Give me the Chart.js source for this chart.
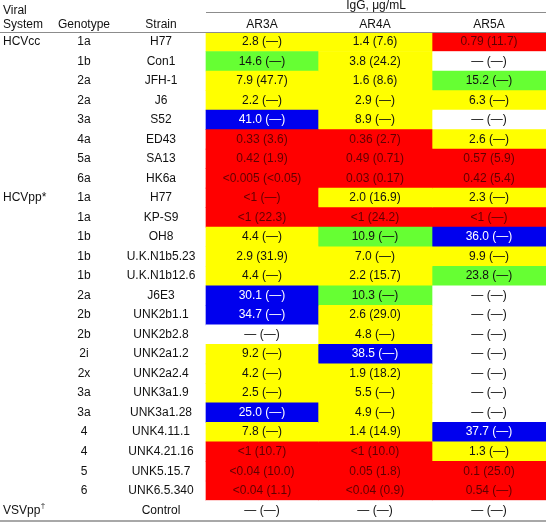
<!DOCTYPE html>
<html>
<head>
<meta charset="utf-8">
<script src="https://cdn.jsdelivr.net/npm/chart.js@4.4.1/dist/chart.umd.min.js"></script>
<style>
  body { margin: 0; background: #fff; }
  canvas { display: block; }
</style>
</head>
<body>
<canvas id="igGChart" width="546" height="522"></canvas>
<script>
// table data
var antibodies = ['AR3A', 'AR4A', 'AR5A'];
var systems = ['HCVcc', '', '', '', '', '', '', '', 'HCVpp*', '', '', '', '', '', '', '', '', '', '', '', '', '', '', '', 'VSVpp'];
var genotypes = ['1a', '1b', '2a', '2a', '3a', '4a', '5a', '6a', '1a', '1a', '1b', '1b', '1b', '2a', '2b', '2b', '2i', '2x', '3a', '3a', '4', '4', '5', '6', ''];
var strains = ['H77', 'Con1', 'JFH-1', 'J6', 'S52', 'ED43', 'SA13', 'HK6a', 'H77', 'KP-S9', 'OH8', 'U.K.N1b5.23', 'U.K.N1b12.6', 'J6E3', 'UNK2b1.1', 'UNK2b2.8', 'UNK2a1.2', 'UNK2a2.4', 'UNK3a1.9', 'UNK3a1.28', 'UNK4.11.1', 'UNK4.21.16', 'UNK5.15.7', 'UNK6.5.340', 'Control'];
var ar3a = ['2.8 (—)', '14.6 (—)', '7.9 (47.7)', '2.2 (—)', '41.0 (—)', '0.33 (3.6)', '0.42 (1.9)', '<0.005 (<0.05)', '<1 (—)', '<1 (22.3)', '4.4 (—)', '2.9 (31.9)', '4.4 (—)', '30.1 (—)', '34.7 (—)', '— (—)', '9.2 (—)', '4.2 (—)', '2.5 (—)', '25.0 (—)', '7.8 (—)', '<1 (10.7)', '<0.04 (10.0)', '<0.04 (1.1)', '— (—)'];
var ar4a = ['1.4 (7.6)', '3.8 (24.2)', '1.6 (8.6)', '2.9 (—)', '8.9 (—)', '0.36 (2.7)', '0.49 (0.71)', '0.03 (0.17)', '2.0 (16.9)', '<1 (24.2)', '10.9 (—)', '7.0 (—)', '2.2 (15.7)', '10.3 (—)', '2.6 (29.0)', '4.8 (—)', '38.5 (—)', '1.9 (18.2)', '5.5 (—)', '4.9 (—)', '1.4 (14.9)', '<1 (10.0)', '0.05 (1.8)', '<0.04 (0.9)', '— (—)'];
var ar5a = ['0.79 (11.7)', '— (—)', '15.2 (—)', '6.3 (—)', '— (—)', '2.6 (—)', '0.57 (5.9)', '0.42 (5.4)', '2.3 (—)', '<1 (—)', '36.0 (—)', '9.9 (—)', '23.8 (—)', '— (—)', '— (—)', '— (—)', '— (—)', '— (—)', '— (—)', '— (—)', '37.7 (—)', '1.3 (—)', '0.1 (25.0)', '0.54 (—)', '— (—)'];
var cellValues = [ar3a, ar4a, ar5a];

// layout
var colEdges = [206, 318, 432, 546];
var FONT = '"Liberation Sans", Arial, sans-serif';

function level(s) {
	var first = s.split(' ')[0];
	if (first.charAt(0) === '—') return 'none';
	if (first.charAt(0) === '<') return 'red';
	var v = parseFloat(first);
	if (v < 1) return 'red';
	if (v < 10) return 'yellow';
	if (v < 25) return 'green';
	return 'blue';
}
var fills = { none: '#ffffff', red: '#ff0000', yellow: '#ffff00', green: '#66ff33', blue: '#0000ee' };
var inks = { none: '#111111', red: '#600000', yellow: '#111111', green: '#111111', blue: '#ffffff' };

var datasets = antibodies.map(function (name, j) {
	return {
		label: name,
		data: strains.map(function () { return [colEdges[j], colEdges[j + 1]]; }),
		backgroundColor: cellValues[j].map(function (s) { return fills[level(s)]; }),
		borderWidth: 0,
		barPercentage: 1,
		categoryPercentage: 1
	};
});

var tablePlugin = {
	id: 'tableText',
	afterDatasetsDraw: function (chart) {
		var ctx = chart.ctx;
		var xs = chart.scales.x, ys = chart.scales.y;
		var W = chart.width;
		ctx.save();
		ctx.font = '12px ' + FONT;
		ctx.textBaseline = 'middle';

		// header
		ctx.fillStyle = '#111';
		ctx.textAlign = 'left';
		ctx.fillText('Viral', 3, 10.5);
		ctx.fillText('System', 3, 25);
		ctx.textAlign = 'center';
		ctx.fillText('Genotype', 84, 25);
		ctx.fillText('Strain', 161, 25);
		ctx.fillText('IgG, μg/mL', xs.getPixelForValue((colEdges[0] + colEdges[3]) / 2), 5.5);
		antibodies.forEach(function (name, j) {
			ctx.fillText(name, xs.getPixelForValue((colEdges[j] + colEdges[j + 1]) / 2), 25);
		});

		ctx.strokeStyle = '#8c8c8c';
		ctx.lineWidth = 1;
		ctx.beginPath();
		ctx.moveTo(xs.getPixelForValue(colEdges[0]), 12.5);
		ctx.lineTo(W, 12.5);
		ctx.moveTo(0, 32.5);
		ctx.lineTo(W, 32.5);
		ctx.stroke();
		ctx.strokeStyle = '#a8a8a8';
		ctx.lineWidth = 2;
		ctx.beginPath();
		ctx.moveTo(0, chart.chartArea.bottom + 1);
		ctx.lineTo(W, chart.chartArea.bottom + 1);
		ctx.stroke();

		// rows
		strains.forEach(function (strain, i) {
			var y = ys.getPixelForValue(i);
			ctx.fillStyle = '#111';
			if (systems[i]) {
				ctx.textAlign = 'left';
				ctx.fillText(systems[i], 3, y);
				if (systems[i] === 'VSVpp') {
					var w = ctx.measureText('VSVpp').width;
					ctx.font = '8px ' + FONT;
					ctx.fillText('†', 3 + w + 0.5, y - 4);
					ctx.font = '12px ' + FONT;
				}
			}
			ctx.textAlign = 'center';
			ctx.fillText(genotypes[i], 84, y);
			ctx.fillText(strain, 161, y);
			cellValues.forEach(function (vals, j) {
				ctx.fillStyle = inks[level(vals[i])];
				ctx.fillText(vals[i], xs.getPixelForValue((colEdges[j] + colEdges[j + 1]) / 2), y);
			});
		});
		ctx.restore();
	}
};

new Chart(document.getElementById('igGChart').getContext('2d'), {
	type: 'bar',
	data: { labels: strains.map(function (s, i) { return i; }), datasets: datasets },
	options: {
		indexAxis: 'y',
		responsive: false,
		animation: false,
		layout: { padding: { top: 32, bottom: 2, left: 0, right: 0 } },
		scales: {
			x: { type: 'linear', min: 0, max: 546, display: false },
			y: { type: 'category', display: false, stacked: false }
		},
		datasets: { bar: { grouped: false } },
		plugins: { legend: { display: false }, tooltip: { enabled: false } }
	},
	plugins: [tablePlugin]
});
</script>
</body>
</html>
